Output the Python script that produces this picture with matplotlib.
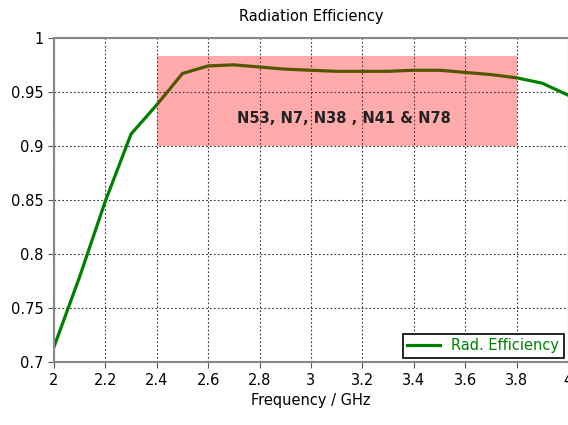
import matplotlib
matplotlib.use("Agg")
import matplotlib.pyplot as plt
from matplotlib.patches import Rectangle

# data
freq = [2.0, 2.1, 2.2, 2.3, 2.4, 2.5, 2.6, 2.7, 2.8, 2.9, 3.0,
        3.1, 3.2, 3.3, 3.4, 3.5, 3.6, 3.7, 3.8, 3.9, 4.0]
rad_eff = [0.714, 0.779, 0.849, 0.911, 0.938, 0.967, 0.974, 0.975, 0.973, 0.971, 0.970,
           0.969, 0.969, 0.969, 0.970, 0.970, 0.968, 0.966, 0.963, 0.958, 0.947]
band = (2.4, 3.8, 0.9, 0.983)
band_label = "N53, N7, N38 , N41 & N78"
xticks = [2, 2.2, 2.4, 2.6, 2.8, 3, 3.2, 3.4, 3.6, 3.8, 4]
yticks = [0.7, 0.75, 0.8, 0.85, 0.9, 0.95, 1]

fig = plt.figure(figsize=(5.68, 4.25), dpi=100)
ax = fig.add_axes([0.095, 0.148, 0.905, 0.763])

ax.plot(freq, rad_eff, color='#008000', lw=2.3, label='Rad. Efficiency', zorder=2)

x0, x1, y0, y1 = band
ax.add_patch(Rectangle((x0, y0), x1 - x0, y1 - y0, facecolor='red',
                       alpha=0.33, edgecolor='none', zorder=3))
ax.text((x0 + x1) / 2 + 0.03, 0.925, band_label, ha='center', va='center',
        fontsize=10.5, fontweight='bold', color='#222222', zorder=4)

ax.set_xlim(2, 4)
ax.set_ylim(0.7, 1)
ax.set_xticks(xticks)
ax.set_xticklabels([f"{t:g}" for t in xticks])
ax.set_yticks(yticks)
ax.set_yticklabels([f"{t:g}" for t in yticks])
ax.tick_params(labelsize=10.5, length=4, color='#555555')
ax.grid(True, color='#333333', linestyle=(0, (1.5, 2)), linewidth=0.8)
ax.set_axisbelow(True)

for s in ['left', 'bottom', 'top']:
    ax.spines[s].set_color('#888888')
    ax.spines[s].set_linewidth(1.5)
ax.spines['right'].set_visible(False)

ax.set_title('Radiation Efficiency', fontsize=10.5, pad=12)
ax.set_xlabel('Frequency / GHz', fontsize=10.5, labelpad=4)

leg = ax.legend(loc='lower right', fancybox=False, framealpha=1,
                edgecolor='black', fontsize=10.5, handlelength=2.2,
                borderpad=0.3, borderaxespad=0.3)
leg.get_frame().set_linewidth(1.2)
for t in leg.get_texts():
    t.set_color('#008000')

fig.savefig('out.png', dpi=100)
